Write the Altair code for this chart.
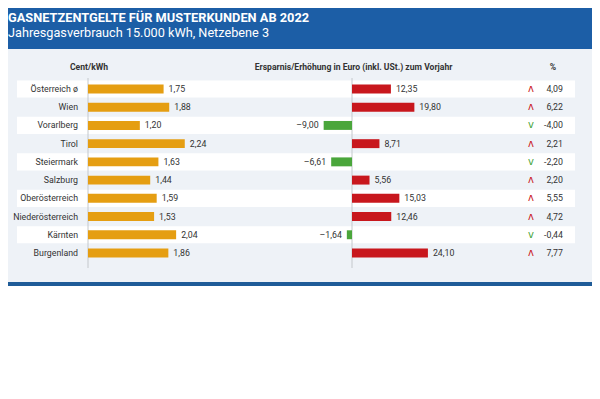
import altair as alt
import pandas as pd

# ---- data ----
regions = ["Österreich ø", "Wien", "Vorarlberg", "Tirol", "Steiermark",
           "Salzburg", "Oberösterreich", "Niederösterreich", "Kärnten", "Burgenland"]
cent_kwh = [1.75, 1.88, 1.20, 2.24, 1.63, 1.44, 1.59, 1.53, 2.04, 1.86]
euro_change = [12.35, 19.80, -9.00, 8.71, -6.61, 5.56, 15.03, 12.46, -1.64, 24.10]
pct_change = [4.09, 6.22, -4.00, 2.21, -2.20, 2.20, 5.55, 4.72, -0.44, 7.77]

title_text = "GASNETZENTGELTE FÜR MUSTERKUNDEN AB 2022"
subtitle_text = "Jahresgasverbrauch 15.000 kWh, Netzebene 3"
head_left = "Cent/kWh"
head_mid = "Ersparnis/Erhöhung in Euro (inkl. USt.) zum Vorjahr"
head_right = "%"

# ---- styling ----
BLUE = "#1c5ea6"
BLUE_RULE = "#1f5c98"
PANEL = "#eef2f7"
ORANGE = "#e59e12"
RED = "#c8171d"
GREEN = "#4aa63b"
TXT = "#333333"
FONT = "Roboto"
FS = 8.8
W, H = 584, 383


def de(v):
    s = f"{abs(v):.2f}".replace(".", ",")
    return ("–" + s) if v < 0 else s


df = pd.DataFrame({
    "region": regions,
    "idx": list(range(len(regions))),
    "cent": cent_kwh,
    "euro": euro_change,
    "pct": pct_change,
})
df["zero"] = 0.0
df["b0"] = df["idx"] - 0.245
df["b1"] = df["idx"] + 0.245
df["r0"] = df["idx"] - 0.47
df["r1"] = df["idx"] + 0.47
df["cent_lbl"] = [de(v) for v in cent_kwh]
df["euro_lbl"] = [de(v) for v in euro_change]
df["pct_lbl"] = [de(v).replace("–", "-") for v in pct_change]
df["arrow"] = ["ʌ" if v > 0 else "v" for v in pct_change]

one = pd.DataFrame({"zero": [0.0]})

ys = alt.Scale(domain=[-4.445, 16.575], reverse=True, zero=False, nice=False)
xl = alt.Scale(domain=[-1.852, 11.667], zero=False, nice=False)
xm = alt.Scale(domain=[-109.21, 76.19], zero=False, nice=False)

base = alt.Chart(df)
b1 = alt.Chart(one)

header = b1.mark_rect(color=BLUE).encode(
    x=alt.value(0), x2=alt.value(W), y=alt.value(0), y2=alt.value(41))
panel = b1.mark_rect(color=PANEL).encode(
    x=alt.value(0), x2=alt.value(W), y=alt.value(41), y2=alt.value(274))
bottom = b1.mark_rect(color=BLUE_RULE).encode(
    x=alt.value(0), x2=alt.value(W), y=alt.value(274), y2=alt.value(278))

title = b1.mark_text(text=title_text, font=FONT, fontWeight="bold", fontSize=12.8,
                     color="white", align="left", baseline="alphabetic").encode(
    x=alt.value(0), y=alt.value(13.5))
subtitle = b1.mark_text(text=subtitle_text, font=FONT, fontSize=12.7,
                        color="white", align="left", baseline="alphabetic").encode(
    x=alt.value(0), y=alt.value(29))

h1 = b1.mark_text(text=head_left, font=FONT, fontWeight="bold", fontSize=8.6,
                  color=TXT, align="center", baseline="alphabetic").encode(
    x=alt.value(81), y=alt.value(62))
h2 = b1.mark_text(text=head_mid, font=FONT, fontWeight="bold", fontSize=8.6,
                  color=TXT, align="center", baseline="alphabetic").encode(
    x=alt.value(345.5), y=alt.value(62))
h3 = b1.mark_text(text=head_right, font=FONT, fontWeight="bold", fontSize=8.6,
                  color=TXT, align="center", baseline="alphabetic").encode(
    x=alt.value(545), y=alt.value(62))

bands = base.transform_filter("datum.idx % 2 == 0").mark_rect(color="white").encode(
    x=alt.value(9), x2=alt.value(567),
    y=alt.Y("r0:Q", scale=ys, axis=None), y2="r1:Q")

names = base.mark_text(font=FONT, fontSize=FS, color=TXT, align="right",
                       baseline="middle").encode(
    x=alt.value(70), y=alt.Y("idx:Q", scale=ys, axis=None), text="region:N")

lrule = b1.mark_rule(color="#c4c8cc", strokeWidth=1).encode(
    x=alt.X("zero:Q", scale=xl, axis=None), y=alt.value(70), y2=alt.value(260))
lbars = base.mark_rect(color=ORANGE).encode(
    x=alt.X("zero:Q", scale=xl, axis=None), x2="cent:Q",
    y=alt.Y("b0:Q", scale=ys, axis=None), y2="b1:Q")
llbl = base.mark_text(font=FONT, fontSize=FS, color=TXT, align="left", dx=5,
                      baseline="middle").encode(
    x=alt.X("cent:Q", scale=xl, axis=None),
    y=alt.Y("idx:Q", scale=ys, axis=None), text="cent_lbl:N")

mrule = b1.mark_rule(color="#c4c8cc", strokeWidth=1).encode(
    x=alt.X("zero:Q", scale=xm, axis=None), y=alt.value(70), y2=alt.value(260))
mbars = base.mark_rect().encode(
    x=alt.X("zero:Q", scale=xm, axis=None), x2="euro:Q",
    y=alt.Y("b0:Q", scale=ys, axis=None), y2="b1:Q",
    color=alt.condition("datum.euro > 0", alt.value(RED), alt.value(GREEN)))
mlbl_pos = base.transform_filter("datum.euro > 0").mark_text(
    font=FONT, fontSize=FS, color=TXT, align="left", dx=5, baseline="middle").encode(
    x=alt.X("euro:Q", scale=xm, axis=None),
    y=alt.Y("idx:Q", scale=ys, axis=None), text="euro_lbl:N")
mlbl_neg = base.transform_filter("datum.euro < 0").mark_text(
    font=FONT, fontSize=FS, color=TXT, align="right", dx=-5, baseline="middle").encode(
    x=alt.X("euro:Q", scale=xm, axis=None),
    y=alt.Y("idx:Q", scale=ys, axis=None), text="euro_lbl:N")

arrows = base.mark_text(font="DejaVu Sans", fontSize=10, baseline="middle",
                        align="center").encode(
    x=alt.value(523), y=alt.Y("idx:Q", scale=ys, axis=None), text="arrow:N",
    color=alt.condition("datum.pct > 0", alt.value(RED), alt.value(GREEN)))
pcts = base.mark_text(font=FONT, fontSize=FS, color=TXT, align="right",
                      baseline="middle").encode(
    x=alt.value(555), y=alt.Y("idx:Q", scale=ys, axis=None), text="pct_lbl:N")

chart = alt.layer(
    header, panel, bottom, title, subtitle, h1, h2, h3,
    bands, names, lrule, lbars, llbl, mrule, mbars, mlbl_pos, mlbl_neg,
    arrows, pcts,
).resolve_scale(x="independent", y="shared", color="independent").properties(
    width=W, height=H, padding=0
).configure_view(stroke=None)

chart.save("out.html", embed_options={"renderer": "svg", "actions": False})
